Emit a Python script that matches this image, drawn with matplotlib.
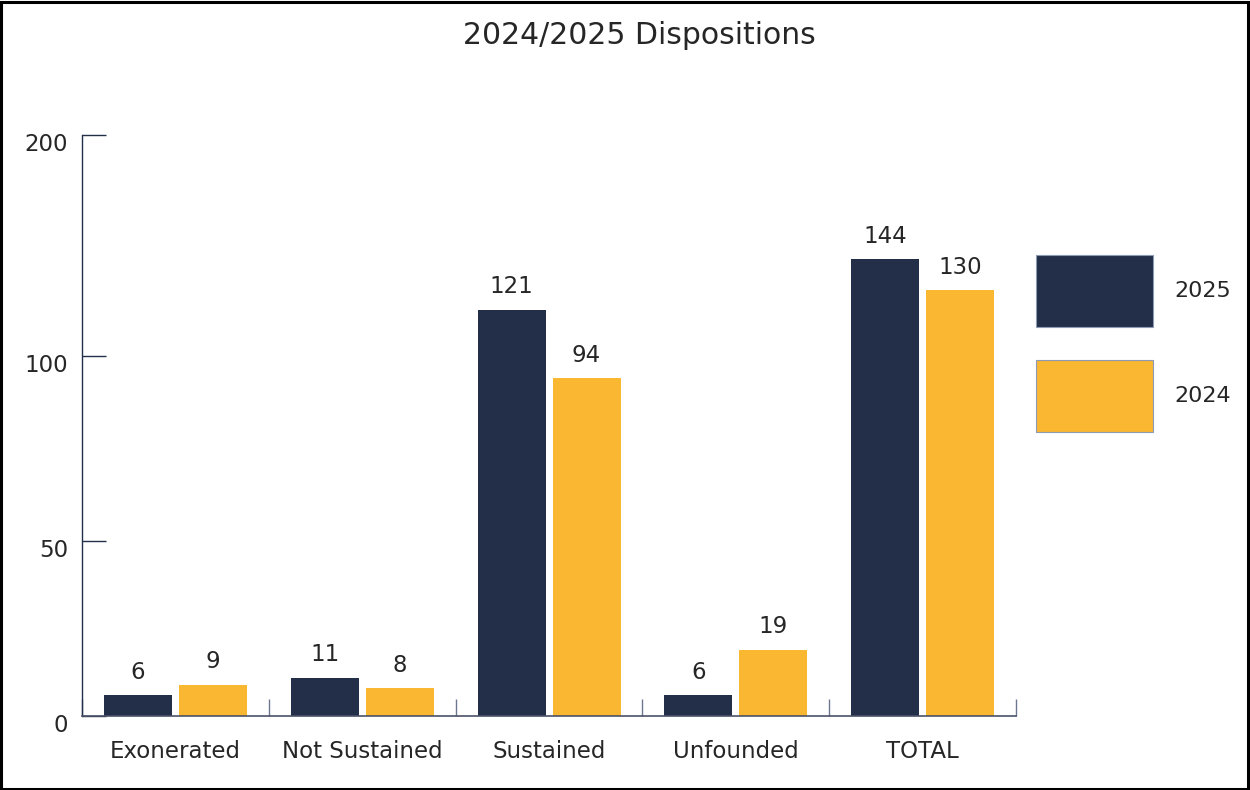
import numpy as np
import matplotlib
matplotlib.use("Agg")
import matplotlib.pyplot as plt
from matplotlib.patches import Rectangle, Patch
from matplotlib.transforms import ScaledTranslation

# --- data -------------------------------------------------------------
categories = ["Exonerated", "Not Sustained", "Sustained", "Unfounded", "TOTAL"]
values_2025 = [6, 11, 121, 6, 144]
values_2024 = [9, 8, 94, 19, 130]
series_labels = ["2025", "2024"]
y_ticks = [0, 50, 100, 200]
title = "2024/2025 Dispositions"

# --- style ------------------------------------------------------------
NAVY = "#232e48"
GOLD = "#fab732"
TEXT = "#262626"
FS = 16.5
plt.rcParams["font.family"] = ["DejaVu Sans"]

# The value axis is stretched unevenly between its labelled ticks
# (0-50, 50-100, 100-200), so use a piecewise-linear scale.
tick_span = [0, 175, 360, 581]


def fwd(v):
    return np.interp(v, y_ticks, tick_span)


def inv(p):
    return np.interp(p, tick_span, y_ticks)


W, H, DPI = 1250, 790, 100
fig = plt.figure(figsize=(W / DPI, H / DPI), dpi=DPI)
fig.patch.set_facecolor("white")

ax = fig.add_axes([82 / W, 1 - 716 / H, (1016 - 82) / W, (716 - 135) / H])
ax.set_yscale("function", functions=(fwd, inv))
ax.set_ylim(0, 200)

n = len(categories)
x = np.arange(n)
bar_w = 68 / 186.8
gap = 7 / 186.8
off = (bar_w + gap) / 2

b1 = ax.bar(x - off, values_2025, width=bar_w, color=NAVY, label=series_labels[0])
b2 = ax.bar(x + off, values_2024, width=bar_w, color=GOLD, label=series_labels[1])

for bars, vals in ((b1, values_2025), (b2, values_2024)):
    for rect, v in zip(bars, vals):
        ax.annotate(str(v), (rect.get_x() + rect.get_width() / 2, v),
                    xytext=(0, 8), textcoords="offset points",
                    ha="center", va="bottom", fontsize=FS, color=TEXT)

ax.set_xlim(-0.5, n - 0.5)

# spines
for s in ("top", "right"):
    ax.spines[s].set_visible(False)
ax.spines["left"].set_color(NAVY)
ax.spines["left"].set_linewidth(1.0)
ax.spines["bottom"].set_color("#4b5268")
ax.spines["bottom"].set_linewidth(1.2)

# y ticks: inward, labels sit a little below each tick
ax.set_yticks(y_ticks)
ax.set_yticklabels([str(t) for t in y_ticks])
ax.tick_params(axis="y", direction="in", length=17, width=1.0, color=NAVY,
               labelsize=FS, labelcolor=TEXT, pad=10)
shift = ScaledTranslation(0, -7 / DPI, fig.dpi_scale_trans)
for lab in ax.get_yticklabels():
    lab.set_transform(lab.get_transform() + shift)

# x: category labels at centres, separator ticks at boundaries
ax.set_xticks(x)
ax.set_xticklabels(categories)
ax.tick_params(axis="x", which="major", length=0, labelsize=FS,
               labelcolor=TEXT, pad=17.5)
ax.set_xticks(np.arange(n + 1) - 0.5, minor=True)
ax.tick_params(axis="x", which="minor", direction="in", length=12.5,
               width=1.0, color="#6e7790")

# title
fig.text(639 / W, 1 - 36 / H, title, ha="center", va="center",
         fontsize=21.5, color=TEXT)

# legend with large swatches on the right
handles = [Patch(facecolor=NAVY, edgecolor="#8c9ab4", linewidth=0.8),
           Patch(facecolor=GOLD, edgecolor="#8c9ab4", linewidth=0.8)]
leg = fig.legend(handles, series_labels, loc="upper left",
                 bbox_to_anchor=(1036 / W, 1 - 255 / H),
                 frameon=False, fontsize=16, handlelength=5.27,
                 handleheight=4.61, labelspacing=1.49, handletextpad=0.95,
                 borderpad=0, borderaxespad=0)
for t in leg.get_texts():
    t.set_color(TEXT)

# outer frame
fig.add_artist(Rectangle((1.5 / W, 1.5 / H), 1 - 4 / W, 1 - 3 / H,
                         transform=fig.transFigure, fill=False,
                         edgecolor="black", linewidth=2.2))

fig.savefig("out.png", dpi=DPI)
